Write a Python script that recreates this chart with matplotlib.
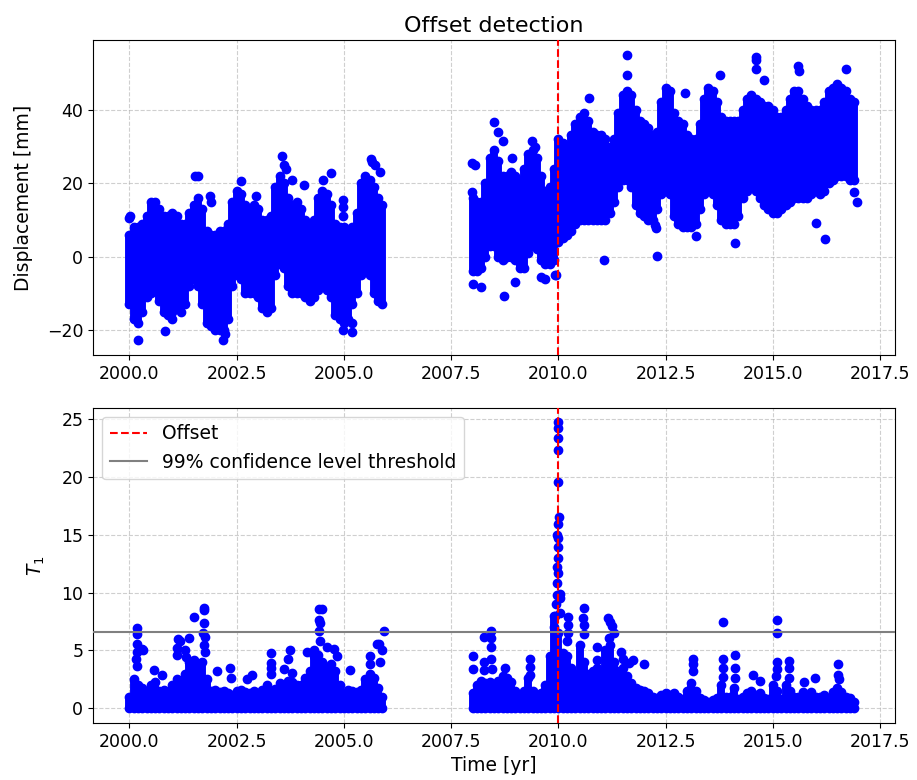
import numpy as np
import matplotlib
matplotlib.use("Agg")
import matplotlib.pyplot as plt

# ---------------- data ----------------
# time grids of the two observation periods (0.1 yr bins)
t_seg1 = np.linspace(2000.0, 2005.9, 60)
t_seg2 = np.linspace(2008.0, 2016.9, 90)

# displacement envelope per bin [mm]
disp_high_seg1 = [6, 8, 8, 9, 11, 15, 15, 13, 11, 11,
                  12, 11, 9, 9, 12, 14, 16, 13, 7, 6,
                  6, 7, 7, 8, 15, 18, 17, 14, 13, 14,
                  13, 10, 10, 11, 19, 22, 20, 16, 14, 15,
                  13, 10, 9, 10, 16, 18, 17, 14, 9, 8,
                  8, 7, 8, 12, 20, 22, 21, 19, 16, 14]
disp_low_seg1 = [-13, -17, -18, -15, -11, -10, -9, -12, -15, -16,
                 -15, -14, -15, -13, -8, -6, -8, -13, -18, -19,
                 -20, -20, -20, -17, -8, -5, -6, -10, -10, -10,
                 -11, -14, -15, -14, -5, -2, -3, -8, -10, -10,
                 -10, -11, -12, -11, -9, -8, -9, -11, -16, -17,
                 -18, -17, -13, -10, -5, -4, -5, -10, -12, -13]
disp_high_seg2 = [16, 15, 15, 20, 27, 29, 26, 22, 22, 23,
                  22, 21, 24, 28, 29, 27, 22, 18, 19, 24,
                  32, 31, 30, 33, 36, 38, 39, 37, 34, 33,
                  33, 32, 30, 32, 39, 44, 45, 44, 40, 37,
                  36, 35, 33, 34, 42, 46, 45, 39, 37, 36,
                  33, 32, 32, 36, 43, 46, 45, 42, 38, 37,
                  37, 37, 37, 40, 43, 44, 43, 42, 41, 41,
                  40, 38, 38, 40, 43, 45, 45, 43, 41, 40,
                  40, 40, 42, 45, 46, 47, 46, 45, 43, 42]
disp_low_seg2 = [-4, -4, -3, 0, 3, 3, 0, -1, 0, 0,
                 -1, -3, -3, 1, 3, 2, -1, -2, -2, -1,
                 4, 5, 6, 7, 9, 10, 10, 10, 10, 10,
                 10, 10, 12, 15, 19, 21, 21, 19, 14, 12,
                 11, 10, 10, 13, 17, 18, 17, 11, 9, 8,
                 8, 8, 9, 13, 17, 18, 17, 14, 10, 9,
                 9, 9, 11, 16, 18, 19, 18, 16, 14, 13,
                 12, 12, 13, 14, 15, 16, 16, 16, 16, 17,
                 18, 17, 18, 20, 21, 22, 22, 22, 21, 21]

# isolated displacement samples outside the dense band
disp_out_t = [2000.0, 2000.02, 2000.19, 2000.84, 2001.0, 2001.54, 2001.6, 2001.88, 2001.9,
              2002.17, 2002.22, 2002.3, 2002.6, 2002.95, 2003.55, 2003.6, 2003.65, 2003.8,
              2004.08, 2004.52, 2004.7, 2004.97, 2004.97, 2004.98, 2004.98, 2005.19, 2005.19,
              2005.64, 2005.66, 2005.72, 2005.85,
              2007.98, 2008.05, 2007.98, 2008.0, 2008.2, 2008.49, 2008.6, 2008.7, 2008.73,
              2008.92, 2009.0, 2009.39, 2009.45, 2009.6, 2009.7, 2009.92, 2009.95, 2010.72,
              2011.06, 2011.6, 2011.6, 2012.25, 2012.28, 2012.3, 2012.95, 2013.2, 2013.77,
              2014.13, 2014.6, 2014.62, 2014.6, 2014.8, 2015.6, 2015.62, 2016.01, 2016.22,
              2016.45, 2016.7, 2016.9, 2016.97]
disp_out_y = [10.5, 11, -22.8, -20.1, -17, 21.9, 22, 16.5, 15,
              -22.8, -21, 9, 20.5, 16.5, 27.3, 25, 24, 21,
              19.5, 21, 22.9, -19.9, 15.5, 13.5, 11, -18, -20.6,
              26.5, 25.9, 25, 23,
              25.6, 25.0, 17.5, -7.4, -8.3, 36.8, 34, 31.5, -10.6,
              27, -7, 31.4, 30, -5.5, -6, -5, -5, 43.2,
              -0.8, 55, 49.5, 8.5, 7.9, 0.1, 44.5, 5.5, 49.6,
              3.8, 54.3, 53.5, 51, 48, 51.8, 50.5, 9.3, 4.8,
              45.5, 51, 17.5, 15]

# T1 statistic: upper edge of the dense band per bin (band starts at 0)
t1_core_seg1 = [1.0, 2.5, 2.0, 1.8, 1.5, 2.0, 2.3, 1.5, 1.6, 1.4,
                2.0, 2.5, 2.2, 3.0, 4.0, 4.2, 3.8, 4.0, 2.5, 1.5,
                1.6, 1.4, 1.5, 1.3, 1.2, 1.5, 1.6, 1.4, 1.3, 1.5,
                1.2, 1.6, 2.0, 1.5, 1.7, 2.2, 2.0, 2.4, 2.3, 2.0,
                2.0, 2.6, 3.2, 4.5, 4.6, 4.0, 3.6, 3.8, 3.2, 2.0,
                1.3, 1.6, 1.5, 1.4, 1.6, 2.5, 3.0, 2.6, 1.8, 1.0]
t1_core_seg2 = [1.3, 2.0, 2.4, 2.2, 2.3, 1.8, 2.4, 2.8, 2.6, 2.3,
                1.5, 1.2, 1.5, 2.6, 1.5, 1.2, 1.3, 2.0, 4.5, 8.0,
                6.5, 4.8, 4.5, 3.5, 3.0, 5.5, 4.0, 3.0, 3.2, 3.5,
                3.0, 5.0, 5.5, 4.0, 3.2, 3.5, 2.8, 2.2, 1.8, 1.6,
                1.5, 1.3, 1.0, 0.9, 1.2, 1.3, 1.2, 1.3, 1.0, 0.8,
                1.5, 2.2, 1.5, 0.9, 0.7, 0.6, 0.7, 0.9, 2.0, 1.0,
                1.0, 1.8, 0.8, 1.0, 1.3, 1.5, 1.2, 1.3, 0.9, 0.8,
                2.0, 1.5, 0.8, 2.0, 1.5, 1.0, 1.0, 1.4, 1.0, 1.4,
                1.0, 1.0, 1.2, 0.9, 1.4, 1.8, 1.4, 1.0, 0.9, 0.6]

# T1 samples sticking out of the band
t1_out_t = [2000.17, 2000.17, 2000.17, 2000.17, 2000.15, 2000.18, 2000.29, 2000.32, 2000.57, 2000.75,
            2001.13, 2001.1, 2001.12, 2001.17, 2001.38, 2001.3, 2001.32,
            2001.5, 2001.73, 2001.75, 2001.75, 2001.72, 2001.76, 2001.73, 2001.76,
            2002.04, 2002.35, 2002.37, 2002.85, 2002.75,
            2003.29, 2003.3, 2003.3, 2003.3, 2003.75, 2003.7, 2003.6, 2003.8,
            2004.14, 2004.41, 2004.49, 2004.42, 2004.45, 2004.43, 2004.45, 2004.3, 2004.6,
            2004.76, 2004.85, 2005.15,
            2005.6, 2005.6, 2005.77, 2005.81, 2005.93, 2005.88, 2005.85,
            2008.02, 2008.02, 2008.26, 2008.26, 2008.26, 2008.43, 2008.43, 2008.43, 2008.43, 2008.45,
            2008.76, 2009.35, 2009.35, 2009.33,
            2009.9, 2009.92, 2009.95, 2009.97, 2009.98, 2010.0, 2009.96, 2009.99, 2010.0, 2010.0,
            2009.98, 2010.0, 2010.01, 2010.0, 2010.0, 2010.0, 2010.0, 2010.0, 2010.03, 2010.04, 2010.04,
            2010.22, 2010.22, 2010.22, 2010.2, 2010.6, 2010.58, 2010.6, 2010.6,
            2010.9, 2010.9, 2011.15, 2011.2, 2011.25, 2011.18, 2011.3,
            2011.45, 2011.5, 2011.65, 2011.75, 2012.0,
            2013.15, 2013.15, 2013.15, 2013.84, 2013.85, 2013.85, 2013.85,
            2014.13, 2014.13, 2014.13, 2014.55, 2014.7,
            2015.1, 2015.1, 2015.1, 2015.1, 2015.08, 2015.37, 2015.37, 2015.37,
            2015.72, 2015.99, 2016.53, 2016.53, 2016.55]
t1_out_y = [6.9, 6.4, 5.6, 4.9, 4.3, 3.7, 5.1, 5.0, 3.3, 2.9,
            6.0, 5.2, 4.6, 5.8, 6.1, 5.0, 4.4,
            7.9, 8.7, 8.5, 7.4, 6.5, 6.2, 5.5, 4.9,
            3.2, 3.5, 2.6, 2.9, 2.5,
            4.8, 3.9, 3.5, 3.0, 5.0, 4.3, 3.4, 3.1,
            4.9, 8.6, 8.6, 7.6, 7.4, 6.7, 5.8, 5.0, 5.3,
            5.1, 4.5, 3.3,
            4.5, 3.8, 5.6, 5.6, 6.7, 5.0, 4.0,
            4.5, 3.4, 6.2, 4.0, 3.3, 6.7, 6.1, 5.3, 4.3, 3.4,
            3.5, 4.3, 3.6, 2.9,
            7.0, 8.0, 9.0, 9.8, 10.8, 11.7, 12.2, 13.0, 13.9, 14.7,
            15.0, 15.9, 16.5, 19.5, 22.3, 23.3, 24.2, 24.7, 9.9, 8.2, 9.5,
            7.9, 7.2, 6.5, 5.8, 8.7, 7.8, 7.2, 6.4,
            5.3, 4.2, 7.8, 7.5, 7.1, 6.1, 6.5,
            4.9, 4.3, 3.9, 4.2, 3.8,
            4.3, 3.8, 3.2, 7.5, 4.3, 3.5, 2.7,
            4.6, 3.5, 2.6, 2.9, 2.4,
            7.6, 6.5, 4.0, 3.4, 2.8, 4.1, 3.5, 2.6,
            2.3, 2.6, 3.8, 2.9, 2.5]

offset_time = 2010.0
threshold = 6.63

# ---------------- figure ----------------
fig = plt.figure(figsize=(9.17, 7.8), dpi=100)
ax1 = fig.add_subplot(2, 1, 1)
ax2 = fig.add_subplot(2, 1, 2)
fig.subplots_adjust(left=0.1014, right=0.976, top=0.9487, bottom=0.0731, hspace=0.165)

MS = 6.0  # marker size (pt)
LBL = 13.5
TCK = 12.5


def band(ax, t, lo, hi):
    # dense band of daily samples: vertical strokes plus the samples at both ends
    ax.vlines(t, lo, hi, colors='b', linewidth=MS * 0.95, zorder=2)
    ax.plot(t, lo, 'o', color='b', markersize=MS, linestyle='none', zorder=2)
    ax.plot(t, hi, 'o', color='b', markersize=MS, linestyle='none', zorder=2)


# top panel
band(ax1, t_seg1, disp_low_seg1, disp_high_seg1)
band(ax1, t_seg2, disp_low_seg2, disp_high_seg2)
ax1.plot(disp_out_t, disp_out_y, 'o', color='b', markersize=MS, linestyle='none', zorder=2)
ax1.axvline(offset_time, color='r', linestyle='--', linewidth=1.5, zorder=3)
ax1.set_title('Offset detection', fontsize=16)
ax1.set_ylabel('Displacement [mm]', fontsize=LBL, labelpad=10)
ax1.grid(True, linestyle='--', color='#b0b0b0', alpha=0.6)
ax1.set_xlim(1999.15, 2017.85)
ax1.set_ylim(-26.9, 59.0)
ax1.set_yticks([-20, 0, 20, 40])

# bottom panel
band(ax2, t_seg1, np.zeros(len(t_seg1)), t1_core_seg1)
band(ax2, t_seg2, np.zeros(len(t_seg2)), t1_core_seg2)
ax2.plot(t1_out_t, t1_out_y, 'o', color='b', markersize=MS, linestyle='none', zorder=2)
ax2.axvline(offset_time, color='r', linestyle='--', linewidth=1.5, zorder=3, label='Offset')
ax2.axhline(threshold, color='gray', linestyle='-', linewidth=1.5, zorder=3,
            label='99% confidence level threshold')
ax2.set_xlabel('Time [yr]', fontsize=LBL)
ax2.set_ylabel('$T_1$', fontsize=LBL, labelpad=10)
ax2.grid(True, linestyle='--', color='#b0b0b0', alpha=0.6)
ax2.set_xlim(1999.15, 2017.85)
ax2.set_ylim(-1.25, 25.95)
ax2.set_yticks([0, 5, 10, 15, 20, 25])
ax2.legend(loc='upper left', fontsize=13.5)

for ax in (ax1, ax2):
    ax.set_xticks([2000.0, 2002.5, 2005.0, 2007.5, 2010.0, 2012.5, 2015.0, 2017.5])
    ax.set_xticklabels(['2000.0', '2002.5', '2005.0', '2007.5', '2010.0', '2012.5', '2015.0', '2017.5'])
    ax.tick_params(labelsize=TCK)

fig.savefig('out.png', dpi=100)
